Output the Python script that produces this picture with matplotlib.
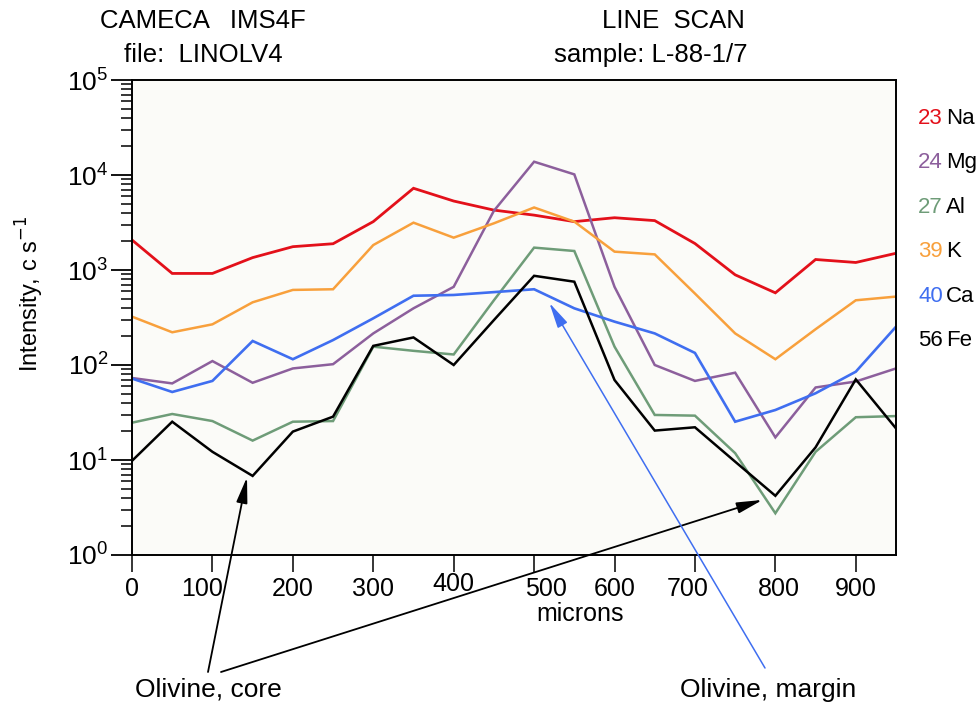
import matplotlib
matplotlib.use("Agg")
import matplotlib.pyplot as plt
from matplotlib.transforms import ScaledTranslation

plt.rcParams["font.family"] = ["Liberation Sans", "DejaVu Sans"]

# data: line scan, intensity (c/s) every 50 microns
microns = [0, 50, 100, 150, 200, 250, 300, 350, 400, 450,
           500, 550, 600, 650, 700, 750, 800, 850, 900, 950]
na = [2070, 920, 920, 1350, 1760, 1890, 3230, 7250, 5320, 4270,
      3780, 3230, 3550, 3310, 1900, 890, 575, 1290, 1200, 1500]
mg = [73, 64, 110, 65, 92, 102, 215, 395, 665, 4200,
      13800, 10150, 665, 100, 68, 83, 17.3, 58, 67, 92]
al = [24.7, 30.5, 25.7, 16, 25.3, 25.7, 156, 141, 129, 480,
      1720, 1585, 156, 29.8, 29.3, 11.8, 2.75, 12.2, 28.2, 29]
k = [323, 221, 268, 457, 617, 627, 1830, 3150, 2190, 3100,
     4550, 3230, 1560, 1460, 565, 215, 115, 238, 480, 525]
ca = [72, 52, 68, 179, 115, 183, 310, 536, 546, 585,
      627, 395, 286, 215, 134, 25.3, 33.6, 50.4, 85, 253]
fe = [9.8, 25.3, 12.2, 6.8, 19.9, 28.6, 159, 195, 100, 297,
      869, 753, 69.5, 20.4, 22.1, 9.6, 4.2, 13.6, 70.6, 21.5]

masses = ["23", "24", "27", "39", "40", "56"]
elements = ["Na", "Mg", "Al", "K", "Ca", "Fe"]
series = [na, mg, al, k, ca, fe]
colors = ["#e3101a", "#8c5f9c", "#6e9c78", "#f8a03c", "#3f6ef0", "#000000"]
widths = [2.0, 1.8, 1.8, 1.8, 1.9, 1.8]

xticks = [0, 100, 200, 300, 400, 500, 600, 700, 800, 900]
# small pixel nudges of x tick labels, as in the original print
xlabel_nudge = {100: (-10, 0), 400: (0, 5), 500: (12, 0), 700: (-7, 0), 800: (4, 0)}

fig = plt.figure(figsize=(9.8, 7.07), dpi=100)
ax = fig.add_axes([132 / 980, 1 - 555 / 707, (896 - 132) / 980, (555 - 80) / 707])
ax.set_facecolor("#fbfbf8")

for vals, col, lw in zip(series, colors, widths):
    ax.plot(microns, vals, color=col, lw=lw, solid_joinstyle="miter")

ax.set_yscale("log")
ax.set_ylim(1, 1e5)
ax.set_xlim(0, 950)
ax.set_xticks(xticks)
ax.set_xticklabels([str(v) for v in xticks])
for s in ax.spines.values():
    s.set_linewidth(1.4)
ax.tick_params(axis="x", which="major", length=12, width=1.1, pad=4, labelsize=18)
ax.tick_params(axis="y", which="major", length=15, width=1.3, pad=2, labelsize=19)
ax.tick_params(axis="y", which="minor", length=8, width=1.1)
ax.set_xlabel("microns", fontsize=18)
ax.xaxis.set_label_coords(0.586, -0.099)
ax.set_ylabel("Intensity, c s$^{-1}$", fontsize=17)
ax.yaxis.set_label_coords(-0.113, 0.55)

for lab, v in zip(ax.get_xticklabels(), xticks):
    if v in xlabel_nudge:
        dx, dy = xlabel_nudge[v]
        lab.set_transform(lab.get_transform() + ScaledTranslation(dx / 100, dy / 100, fig.dpi_scale_trans))

# headers
fig.text(203 / 980, 1 - 21 / 707, "CAMECA   IMS4F", ha="center", va="center", fontsize=18.5)
fig.text(203 / 980, 1 - 55 / 707, "file:  LINOLV4", ha="center", va="center", fontsize=18.5)
fig.text(745 / 980, 1 - 21 / 707, "LINE  SCAN", ha="right", va="center", fontsize=18.5)
fig.text(747 / 980, 1 - 55 / 707, "sample: L-88-1/7", ha="right", va="center", fontsize=18.5)

# element key on the right
for i, (m, el, col) in enumerate(zip(masses, elements, colors)):
    yy = 1 - (118 + i * 44.6) / 707
    fig.text(943 / 980, yy, m, color=col, ha="right", va="center", fontsize=16)
    fig.text(946 / 980, yy, el, color="black", ha="left", va="center", fontsize=16)

# annotations
fig.text(135 / 980, 1 - 690 / 707, "Olivine, core", ha="left", va="center", fontsize=19)
fig.text(680 / 980, 1 - 690 / 707, "Olivine, margin", ha="left", va="center", fontsize=19)

black_arrow = dict(arrowstyle="-|>,head_length=1.3,head_width=0.28", color="black",
                   lw=1.3, mutation_scale=12, shrinkA=0, shrinkB=0)
blue_arrow = dict(arrowstyle="-|>,head_length=1.3,head_width=0.28", color="#3f6ef0",
                  lw=1.1, mutation_scale=12, shrinkA=0, shrinkB=0)
ax.annotate("", xy=(143, 6.6), xycoords="data", xytext=(208, 707 - 672),
            textcoords="figure pixels", arrowprops=black_arrow, annotation_clip=False)
ax.annotate("", xy=(784, 3.8), xycoords="data", xytext=(221, 707 - 672),
            textcoords="figure pixels", arrowprops=black_arrow, annotation_clip=False)
ax.annotate("", xy=(519, 450), xycoords="data", xytext=(765, 707 - 668),
            textcoords="figure pixels", arrowprops=blue_arrow, annotation_clip=False)

fig.savefig("out.png", dpi=100, facecolor="white")
